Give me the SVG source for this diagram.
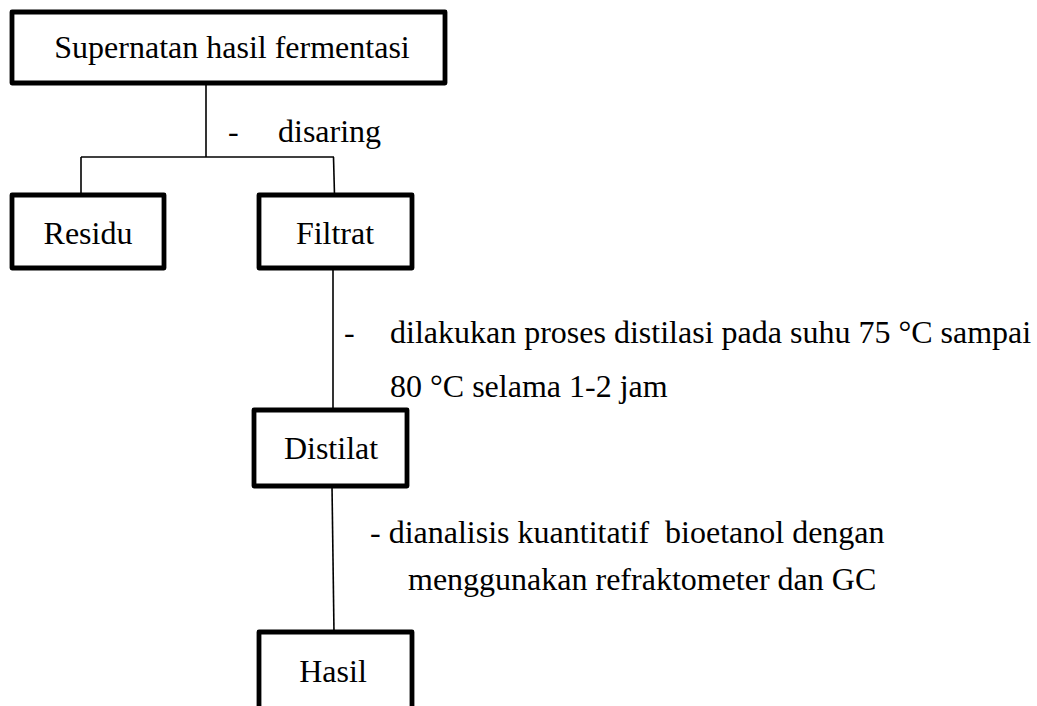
<svg xmlns="http://www.w3.org/2000/svg" width="1037" height="706" viewBox="0 0 1037 706">
<style>
.box{fill:#fff;stroke:#000;stroke-width:4.8;stroke-linejoin:round}
.t{font-family:"Liberation Serif","Times New Roman",serif;font-size:32px;fill:#000}
.c{text-anchor:middle}
.ln{stroke:#000;stroke-width:1.6;fill:none}
</style>
<rect width="1037" height="706" fill="#fff"/>
<g id="connectors">
<line class="ln" x1="206" y1="83" x2="206" y2="157"/>
<line class="ln" x1="81" y1="157" x2="334" y2="157"/>
<line class="ln" x1="81" y1="157" x2="81" y2="195"/>
<line class="ln" x1="333.5" y1="157" x2="334.5" y2="195"/>
<line class="ln" x1="333" y1="268" x2="333" y2="410"/>
<line class="ln" x1="332" y1="486" x2="334" y2="632"/>
<text class="t" x="228" y="142">-</text>
<text class="t" x="278" y="142">disaring</text>
<text class="t" x="344" y="343">-</text>
<text class="t" x="390" y="343">dilakukan proses distilasi pada suhu 75 °C sampai</text>
<text class="t" x="390" y="397">80 °C selama 1-2 jam</text>
<text class="t" x="370" y="543" xml:space="preserve">- dianalisis kuantitatif  bioetanol dengan</text>
<text class="t" x="408" y="590">menggunakan refraktometer dan GC</text>
</g>
<g id="node-supernatan">
<rect class="box" x="12" y="12" width="433" height="71"/>
<text class="t c" x="232" y="58">Supernatan hasil fermentasi</text>
</g>
<g id="node-residu">
<rect class="box" x="12" y="195" width="152" height="73"/>
<text class="t c" x="88" y="244">Residu</text>
</g>
<g id="node-filtrat">
<rect class="box" x="259" y="195" width="153" height="73"/>
<text class="t c" x="335" y="244">Filtrat</text>
</g>
<g id="node-distilat">
<rect class="box" x="254" y="410" width="153" height="76"/>
<text class="t c" x="331" y="459">Distilat</text>
</g>
<g id="node-hasil">
<rect class="box" x="259" y="632" width="153" height="90"/>
<text class="t c" x="333" y="682">Hasil</text>
</g>
</svg>
